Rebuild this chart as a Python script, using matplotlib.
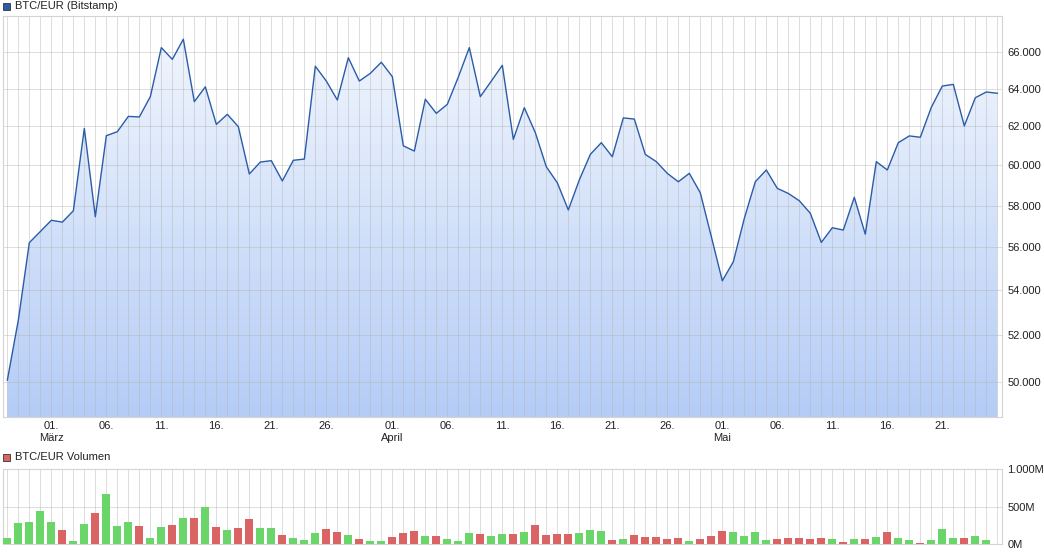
import numpy as np
import pandas as pd
import matplotlib
matplotlib.use("Agg")
import matplotlib.pyplot as plt
from matplotlib.patches import Polygon, Rectangle
from matplotlib.colors import LinearSegmentedColormap
from matplotlib.ticker import FixedLocator, FuncFormatter

plt.rcParams.update({
    "font.family": ["Liberation Sans", "DejaVu Sans"],
    "font.size": 8,
})

# ── Data ──────────────────────────────────────────────────────────────────────
START = "2024-02-26"

price = [
    50070, 52670, 56220, 56750, 57290, 57200, 57750, 61900, 57460, 61520,
    61730, 62530, 62500, 63580, 66260, 65610, 66730, 63310, 64110, 62110,
    62640, 61990, 59570, 60170, 60240, 59220, 60260, 60320, 65230, 64420,
    63400, 65700, 64420, 64840, 65450, 64660, 61000, 60730, 63440, 62690,
    63170, 64640, 66260, 63580, 64420, 65280, 61330, 62990, 61680, 59930,
    59130, 57790, 59270, 60560, 61160, 60440, 62450, 62390, 60560, 60190,
    59600, 59180, 59600, 58630, 56510, 54440, 55320, 57380, 59180, 59770,
    58850, 58600, 58240, 57630, 56230, 56930, 56820, 58410, 56620, 60190,
    59770, 61160, 61510, 61440, 63010, 64150, 64240, 62030, 63520, 63830,
    63760,
]

volume_m = [
    84, 289, 302, 449, 302, 196, 49, 276, 422, 676,
    249, 302, 249, 89, 236, 262, 356, 356, 502, 231,
    196, 222, 342, 222, 222, 129, 89, 62, 156, 204,
    169, 124, 71, 44, 44, 98, 151, 182, 111, 111,
    71, 49, 151, 138, 111, 138, 138, 164, 258, 124,
    138, 138, 151, 191, 178, 58, 71, 124, 98, 98,
    71, 84, 44, 71, 111, 178, 164, 111, 164, 58,
    71, 84, 84, 71, 84, 71, 31, 71, 71, 98,
    164, 84, 58, 18, 58, 204, 84, 84, 111, 58,
    5,
]

price_ticks = [50000, 52000, 54000, 56000, 58000, 60000, 62000, 64000, 66000]
volume_ticks = [0, 500, 1000]
label_days = [1, 6, 11, 16, 21, 26]
month_names = {3: "März", 4: "April", 5: "Mai"}

LINE_BLUE = "#2b5ca8"
UP_GREEN = "#6ad66a"
DOWN_RED = "#da6464"
GRID = "#b4b4b4"

dates = pd.date_range(START, periods=len(price), freq="D")
x = np.arange(len(price))
colors = [UP_GREEN if i == 0 or price[i] >= price[i - 1] else DOWN_RED for i in x]

tick_pos, tick_lab = [], []
for i, d in enumerate(dates):
    if d.day in label_days and 0 < i < len(dates) - 1:
        tick_pos.append(i)
        lab = f"{d.day:02d}."
        if d.day == 1:
            lab += "\n" + month_names[d.month]
        tick_lab.append(lab)

# ── Figure ────────────────────────────────────────────────────────────────────
W, H = 1044, 555
fig = plt.figure(figsize=(W / 100, H / 100), dpi=100)


def px_axes(left, top, right, bottom):
    return fig.add_axes([left / W, 1 - bottom / H, (right - left) / W, (bottom - top) / H])


def style(a):
    for s in a.spines.values():
        s.set_color("#d4d4d4")
        s.set_linewidth(0.8)
    a.xaxis.set_minor_locator(FixedLocator(x))
    a.grid(True, which="both", axis="x", color=GRID, lw=0.7, alpha=0.45)
    a.grid(True, which="major", axis="y", color=GRID, lw=0.7, alpha=0.45)
    a.tick_params(which="both", length=0, colors="#222222", labelsize=8)
    a.yaxis.tick_right()
    a.set_axisbelow("line")


XLIM = (-0.44, len(price) - 1 + 0.4)

# price panel
ax = px_axes(2.5, 16, 1001.7, 416.7)
ax.set_yscale("log")
ax.set_xlim(*XLIM)
ax.set_ylim(48550, 68050)
style(ax)
ax.yaxis.set_major_locator(FixedLocator(price_ticks))
ax.yaxis.set_minor_locator(FixedLocator([]))
ax.yaxis.set_major_formatter(FuncFormatter(lambda v, p: f"{v:,.0f}".replace(",", ".")))
ax.tick_params(axis="y", pad=4)
ax.set_xticks(tick_pos)
ax.set_xticklabels(tick_lab, linespacing=1.3)
ax.tick_params(axis="x", pad=3)

cmap = LinearSegmentedColormap.from_list("fill", ["#b4ccf6", "#f4f8fe"])
grad = np.linspace(0, 1, 256).reshape(-1, 1)
im = ax.imshow(grad, cmap=cmap, origin="lower", extent=[0, 1, 0, 1],
               transform=ax.transAxes, aspect="auto", zorder=0)
verts = list(zip(x, price)) + [(x[-1], 1000), (x[0], 1000)]
clip = Polygon(verts, closed=True, transform=ax.transData)
im.set_clip_path(clip)
ax.set_xlim(*XLIM)
ax.set_ylim(48550, 68050)
ax.plot(x, price, color=LINE_BLUE, lw=1.0, zorder=3)

# volume panel
axv = px_axes(2.5, 469.3, 1001.7, 544.3)
axv.set_xlim(*XLIM)
axv.set_ylim(0, 1000)
style(axv)
axv.set_xticks(tick_pos)
axv.set_xticklabels([])
axv.yaxis.set_major_locator(FixedLocator(volume_ticks))
axv.yaxis.set_major_formatter(FuncFormatter(lambda v, p: f"{v:,.0f}M".replace(",", ".")))
axv.tick_params(axis="y", pad=4)
axv.bar(x, volume_m, width=0.72, color=colors, zorder=3)

# legend squares
def legend(y_top, color, text):
    fig.add_artist(Rectangle((3.3 / W, 1 - (y_top + 7) / H), 7 / W, 7 / H,
                             transform=fig.transFigure, facecolor=color,
                             edgecolor="#333333", lw=0.6))
    fig.text(15 / W, 1 - (y_top + 3.5) / H, text, fontsize=8, va="center",
             ha="left", color="#222222")


legend(2.7, LINE_BLUE, "BTC/EUR (Bitstamp)")
legend(453.5, DOWN_RED, "BTC/EUR Volumen")

fig.savefig("out.png", dpi=100)
